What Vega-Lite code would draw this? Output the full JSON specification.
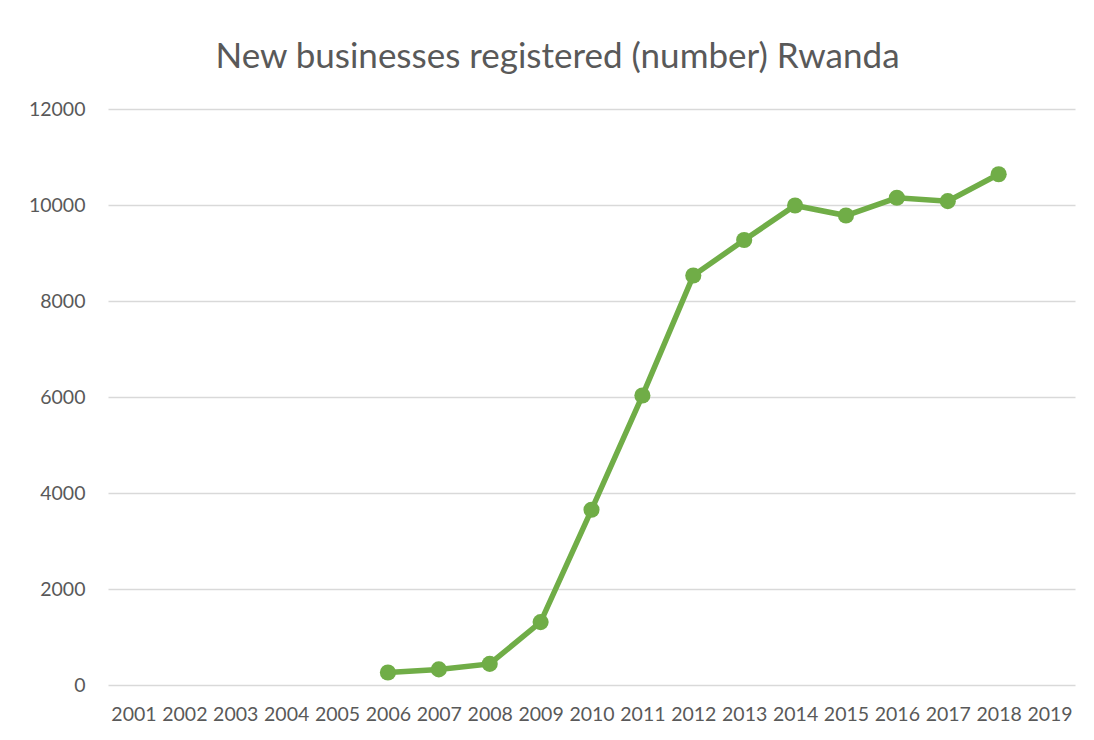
{
  "$schema": "https://vega.github.io/schema/vega-lite/v6.json",
  "autosize": {"type": "none"},
  "width": 967,
  "height": 576,
  "padding": {"left": 108, "top": 109, "right": 19, "bottom": 55},
  "background": "white",
  "title": {
    "text": "New businesses registered (number) Rwanda",
    "font": "Lato",
    "fontSize": 35,
    "fontWeight": "normal",
    "color": "#595959",
    "anchor": "middle",
    "offset": 24,
    "dx": -34
  },
  "data": {
    "values": [
      {"year": "2006", "value": 260},
      {"year": "2007", "value": 325},
      {"year": "2008", "value": 440},
      {"year": "2009", "value": 1310},
      {"year": "2010", "value": 3650},
      {"year": "2011", "value": 6030},
      {"year": "2012", "value": 8530},
      {"year": "2013", "value": 9270},
      {"year": "2014", "value": 9990},
      {"year": "2015", "value": 9780},
      {"year": "2016", "value": 10150},
      {"year": "2017", "value": 10080},
      {"year": "2018", "value": 10640}
    ]
  },
  "mark": {
    "type": "line",
    "color": "#70AD47",
    "strokeWidth": 5.5,
    "point": {"filled": true, "size": 260, "color": "#70AD47"}
  },
  "encoding": {
    "x": {
      "field": "year",
      "type": "ordinal",
      "scale": {
        "type": "point",
        "padding": 0.5,
        "domain": ["2001","2002","2003","2004","2005","2006","2007","2008","2009","2010","2011","2012","2013","2014","2015","2016","2017","2018","2019"]
      },
      "axis": {
        "title": null,
        "labelAngle": 0,
        "domain": false,
        "ticks": false,
        "grid": false,
        "labelFont": "Lato",
        "labelFontSize": 19.5,
        "labelColor": "#595959",
        "labelPadding": 20
      }
    },
    "y": {
      "field": "value",
      "type": "quantitative",
      "scale": {"domain": [0, 12000], "nice": false},
      "axis": {
        "title": null,
        "values": [0, 2000, 4000, 6000, 8000, 10000, 12000],
        "format": "d",
        "domain": false,
        "ticks": false,
        "gridColor": "#d9d9d9",
        "gridWidth": 1.5,
        "labelFont": "Lato",
        "labelFontSize": 19.5,
        "labelColor": "#595959",
        "labelPadding": 23
      }
    }
  },
  "config": {"view": {"stroke": null}}
}
